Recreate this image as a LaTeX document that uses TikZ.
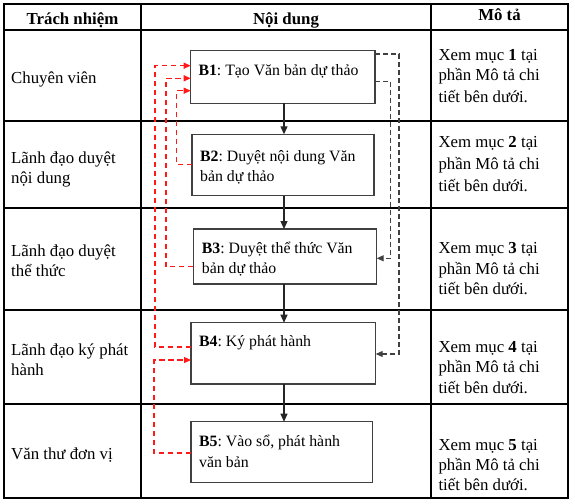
\documentclass[tikz,border=0pt]{standalone}
\usepackage{fontspec}
\setmainfont{Liberation Serif}
\usetikzlibrary{arrows.meta,calc}
\frenchspacing
\begin{document}
\begin{tikzpicture}[x=1pt,y=-1pt,
  tbl/.style={line width=1.4pt,black},
  box/.style={draw=black!75,line width=1.5pt,inner sep=0pt,outer sep=0pt,anchor=north west},
  tabtxt/.style={inner sep=0pt,anchor=base west,font=\fontsize{16.8}{21}\selectfont},
  hdr/.style={inner sep=0pt,anchor=base,font=\fontsize{16.8}{21}\selectfont\bfseries},
  boxtxt/.style={inner sep=0pt,anchor=base west,font=\fontsize{15.8}{20}\selectfont},
  flow/.style={-{Triangle[length=8pt,width=7pt]},line width=1.2pt,black!85},
  backk/.style={-{Triangle[length=7pt,width=6pt]},line width=1.1pt,black!75,dash pattern=on 5pt off 3pt},
  backr/.style={-{Triangle[length=7pt,width=6pt]},line width=1.3pt,red!90!white,dash pattern=on 5.5pt off 3.5pt}]
\useasboundingbox (0,0) rectangle (575,503);
% table
\draw[tbl] (4,4) rectangle (568,498);
\draw[tbl] (141,4) -- (141,498);
\draw[tbl] (431,4) -- (431,498);
\foreach \yy in {30,121,208,310,404} \draw[tbl] (4,\yy) -- (568,\yy);
% headers
\node[hdr] (h1) at (72.5,25) {Trách nhiệm};
\node[hdr] (h2) at (286,25) {Nội dung};
\node[hdr] (h3) at (499.5,21) {Mô tả};
% left column
\node[tabtxt] (l1) at (11,83) {Chuyên viên};
\node[tabtxt] (l2a) at (11,163.3) {Lãnh đạo duyệt};
\node[tabtxt] (l2b) at (11,183.3) {nội dung};
\node[tabtxt] (l3a) at (11,256.7) {Lãnh đạo duyệt};
\node[tabtxt] (l3b) at (11,276.7) {thể thức};
\node[tabtxt] (l4a) at (11,355) {Lãnh đạo ký phát};
\node[tabtxt] (l4b) at (11,375) {hành};
\node[tabtxt] (l5) at (11,459) {Văn thư đơn vị};
% right column
\foreach \n/\ya/\yb/\yc in {1/60/81/102, 2/147/169/191, 3/253/274/294, 4/352/372/393, 5/450/470/490}{
  \node[tabtxt] (r\n a) at (438.3,\ya) {Xem mục \textbf{\n} tại};
  \node[tabtxt] (r\n b) at (438.3,\yb) {phần Mô tả chi};
  \node[tabtxt] (r\n c) at (438.3,\yc) {tiết bên dưới.};
}
% boxes
\node[box,minimum width=184.3pt,minimum height=52.6pt] (b1) at (190.7,50.7) {};
\node[box,minimum width=182pt,minimum height=61.4pt] (b2) at (192,134.3) {};
\node[box,minimum width=183.4pt,minimum height=55pt] (b3) at (193.3,229) {};
\node[box,minimum width=184.7pt,minimum height=61.3pt] (b4) at (191,322.7) {};
\node[box,minimum width=181.7pt,minimum height=60.6pt] (b5) at (191,421.7) {};
% box texts
\node[boxtxt] (t1) at ($(b1.north west)+(7.6,24.3)$) {\textbf{B1}: Tạo Văn bản dự thảo};
\node[boxtxt] (t2a) at ($(b2.north west)+(8,26.7)$) {\textbf{B2}: Duyệt nội dung Văn};
\node[boxtxt] (t2b) at ($(b2.north west)+(8,47.4)$) {bản dự thảo};
\node[boxtxt] (t3a) at ($(b3.north west)+(8.4,24.3)$) {\textbf{B3}: Duyệt thể thức Văn};
\node[boxtxt] (t3b) at ($(b3.north west)+(8.4,44.5)$) {bản dự thảo};
\node[boxtxt] (t4) at ($(b4.north west)+(8,24)$) {\textbf{B4}: Ký phát hành};
\node[boxtxt] (t5a) at ($(b5.north west)+(8,25)$) {\textbf{B5}: Vào sổ, phát hành};
\node[boxtxt] (t5b) at ($(b5.north west)+(8,45.6)$) {văn bản};
% main flow
\coordinate (ax) at (284,0);
\draw[flow] (b1.south -| ax) -- (b2.north -| ax);
\draw[flow] (b2.south -| ax) -- (b3.north -| ax);
\draw[flow] (b3.south -| ax) -- (b4.north -| ax);
\draw[flow] (b4.south -| ax) -- (b5.north -| ax);
% black dashed returns (right)
\draw[backk] (b1.east |- 0,54) -| (399,354) -- (b4.east |- 0,354);
\draw[backk] (b1.east |- 0,81.7) -| (390.7,258.3) -- (b3.east |- 0,258.3);
% red dashed returns (left)
\draw[backr] (b4.west |- 0,347) -| (155,65.7) -- (b1.west |- 0,65.7);
\draw[backr] (b3.west |- 0,266.7) -| (166,78.3) -- (b1.west |- 0,78.3);
\draw[backr] (b2.west |- 0,164.7) -| (176.7,90.7) -- (b1.west |- 0,90.7);
\draw[backr] (b5.west |- 0,453) -| (154,360) -- (b4.west |- 0,360);
\end{tikzpicture}
\end{document}
